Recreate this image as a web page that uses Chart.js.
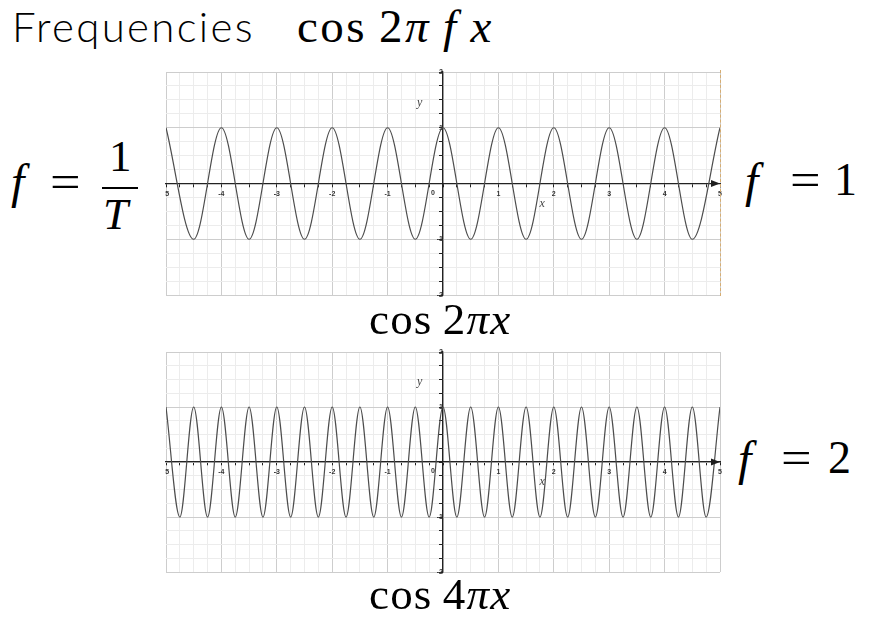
<!DOCTYPE html>
<html>
<head>
<meta charset="utf-8">
<script src="https://cdn.jsdelivr.net/npm/chart.js@4.4.1/dist/chart.umd.min.js"></script>
<style>
  html, body { margin: 0; padding: 0; background: #fff; }
  body { width: 871px; height: 620px; position: relative; overflow: hidden; }
  .t { position: absolute; white-space: nowrap; line-height: 1; color: #000; }
  .serif { font-family: "Liberation Serif", "Times New Roman", serif; }
  .it { font-style: italic; }
  .eq { transform: scaleX(1.18); transform-origin: left center; }
  .sans { font-family: Lato, "Noto Sans", sans-serif; }
  .clip { position: absolute; overflow: hidden; }
  .clip canvas { position: absolute; }
  .bar { position: absolute; background: #000; }
  .edge { position: absolute; border-left: 1px dashed #d6ad72; }
</style>
</head>
<body>

<!-- title -->
<div class="t sans" style="left:12px; top:5px; font-size:42px; font-weight:300; letter-spacing:2.3px;">Frequencies</div>
<div class="t serif" style="left:297px; top:3px; font-size:47px; letter-spacing:2.5px;">cos&#8201;2<i>π</i>&#8201;<i>f</i>&#8201;<i>x</i></div>

<!-- f = 1/T -->
<div class="t serif it" style="left:11px; top:158px; font-size:48px;">f</div>
<div class="t serif eq" style="left:50px; top:159px; font-size:46px;">=</div>
<div class="t serif" style="left:109px; top:134px; font-size:45px;">1</div>
<div class="bar" style="left:102px; top:187px; width:36px; height:2px;"></div>
<div class="t serif it" style="left:103px; top:192px; font-size:45px;">T</div>

<!-- f = 1 / f = 2 -->
<div class="t serif it" style="left:745px; top:157px; font-size:48px;">f</div>
<div class="t serif eq" style="left:790px; top:157px; font-size:46px;">=</div>
<div class="t serif" style="left:834px; top:157px; font-size:46px;">1</div>

<div class="t serif it" style="left:738px; top:435px; font-size:48px;">f</div>
<div class="t serif eq" style="left:781px; top:435px; font-size:46px;">=</div>
<div class="t serif" style="left:828px; top:435px; font-size:46px;">2</div>

<!-- plots -->
<div class="clip" style="left:165px; top:69px; width:557px; height:228px;">
  <canvas id="plot1" width="574" height="243" style="left:-9px; top:-7px;"></canvas>
</div>
<div class="edge" style="left:720px; top:70px; height:226px;"></div>
<div class="t serif" style="left:369px; top:297px; font-size:45px; letter-spacing:1.2px;">cos&#8201;2<i>πx</i></div>

<div class="clip" style="left:165px; top:349px; width:557px; height:226px;">
  <canvas id="plot2" width="574" height="240" style="left:-9px; top:-7px;"></canvas>
</div>
<div class="t serif" style="left:369px; top:572px; font-size:45px; letter-spacing:1.2px;">cos&#8201;4<i>πx</i></div>

<script>
// ── Data (extrema of each wave) ─────────────────────────────────
const xLimits = [-5, 5];
const yLimits = [-2, 2];
const gridStep = 0.25;

// cos 2πx : f = 1
const peakX1 = [-5, -4.5, -4, -3.5, -3, -2.5, -2, -1.5, -1, -0.5, 0,
                0.5, 1, 1.5, 2, 2.5, 3, 3.5, 4, 4.5, 5];
const peakY1 = [1, -1, 1, -1, 1, -1, 1, -1, 1, -1, 1,
                -1, 1, -1, 1, -1, 1, -1, 1, -1, 1];

// cos 4πx : f = 2
const peakX2 = [-5, -4.75, -4.5, -4.25, -4, -3.75, -3.5, -3.25, -3, -2.75,
                -2.5, -2.25, -2, -1.75, -1.5, -1.25, -1, -0.75, -0.5, -0.25,
                0, 0.25, 0.5, 0.75, 1, 1.25, 1.5, 1.75, 2, 2.25,
                2.5, 2.75, 3, 3.25, 3.5, 3.75, 4, 4.25, 4.5, 4.75, 5];
const peakY2 = [1, -1, 1, -1, 1, -1, 1, -1, 1, -1,
                1, -1, 1, -1, 1, -1, 1, -1, 1, -1,
                1, -1, 1, -1, 1, -1, 1, -1, 1, -1,
                1, -1, 1, -1, 1, -1, 1, -1, 1, -1, 1];

// ── Helpers ─────────────────────────────────────────
const isWhole = v => Math.abs(v - Math.round(v)) < 1e-9;
const gridColor = ctx => isWhole(ctx.tick.value) ? '#cdcdcd' : '#ececec';
const tickFont = { family: '"Liberation Sans", Arial, sans-serif', size: 7, weight: 'bold' };

// arrow on x axis, axis names and the origin "0"
const axisDecor = {
  id: 'axisDecor',
  afterDraw(chart) {
    const { ctx, scales: { x, y } } = chart;
    const y0 = y.getPixelForValue(0);
    ctx.save();
    ctx.fillStyle = '#1e1e1e';
    ctx.beginPath();
    ctx.moveTo(x.right, y0);
    ctx.lineTo(x.right - 9, y0 - 3.5);
    ctx.lineTo(x.right - 9, y0 + 3.5);
    ctx.closePath();
    ctx.fill();

    ctx.fillStyle = '#444';
    ctx.textAlign = 'center';
    ctx.textBaseline = 'middle';
    ctx.font = 'italic 12px "Liberation Serif", "Times New Roman", serif';
    ctx.fillText('x', x.getPixelForValue(1.79), y.getPixelForValue(-0.36));
    ctx.fillText('y', x.getPixelForValue(-0.42), y.getPixelForValue(1.45));

    ctx.fillStyle = '#333';
    ctx.font = 'bold 7px "Liberation Sans", Arial, sans-serif';
    ctx.fillText('0', x.getPixelForValue(-0.18), y.getPixelForValue(-0.17));
    ctx.restore();
  }
};

const makePlot = (id, xs, ys) => {
  const points = xs.map((v, i) => ({ x: v, y: ys[i] }));
  return new Chart(document.getElementById(id), {
    type: 'line',
    data: {
      datasets: [{
        data: points,
        borderColor: '#4d4d4d',
        borderWidth: 1.2,
        pointRadius: 0,
        fill: false,
        cubicInterpolationMode: 'monotone'
      }]
    },
    options: {
      responsive: false,
      animation: false,
      devicePixelRatio: 1,
      layout: { padding: 10 },
      plugins: { legend: { display: false }, tooltip: { enabled: false } },
      scales: {
        x: {
          type: 'linear',
          min: xLimits[0],
          max: xLimits[1],
          position: { y: 0 },
          ticks: {
            stepSize: gridStep,
            autoSkip: false,
            maxRotation: 0,
            padding: 3,
            color: '#333',
            font: tickFont,
            callback: v => (isWhole(v) && v !== 0) ? String(v) : ''
          },
          grid: { color: gridColor, lineWidth: 1, tickLength: 3, tickColor: '#222' },
          border: { display: true, color: '#222', width: 1.3 }
        },
        y: {
          type: 'linear',
          min: yLimits[0],
          max: yLimits[1],
          position: { x: 0 },
          ticks: {
            stepSize: gridStep,
            autoSkip: false,
            padding: 1,
            color: '#333',
            font: tickFont,
            callback: v => (isWhole(v) && v !== 0) ? String(v) : ''
          },
          grid: { color: gridColor, lineWidth: 1, tickLength: 3, tickColor: '#222' },
          border: { display: true, color: '#222', width: 1.3 }
        }
      }
    },
    plugins: [axisDecor]
  });
};

makePlot('plot1', peakX1, peakY1);
makePlot('plot2', peakX2, peakY2);
</script>
</body>
</html>
